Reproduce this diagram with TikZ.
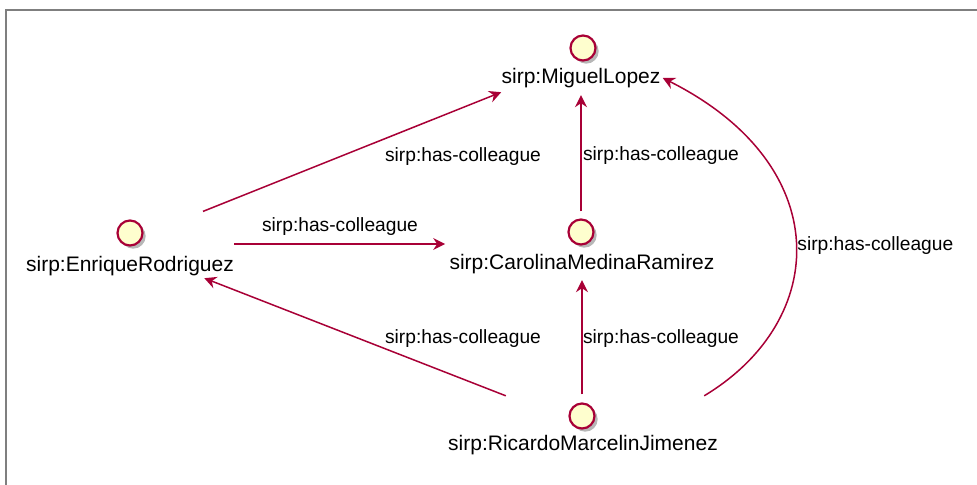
\documentclass[tikz,border=0pt]{standalone}
\usepackage{fontspec}
\setmainfont{Liberation Sans}
\usetikzlibrary{arrows.meta,shadows}
\definecolor{relred}{HTML}{A80036}
\definecolor{indfill}{HTML}{FEFECE}
\definecolor{framegray}{HTML}{7F7F7F}

\begin{document}
\begin{tikzpicture}[x=0.5pt,y=-0.5pt,
    ind/.style={circle,draw=relred,line width=1.1pt,fill=indfill,minimum size=12.5pt,inner sep=0pt,
      drop shadow={shadow xshift=1.6pt,shadow yshift=-1.6pt,opacity=0.4,fill=black!70}},
    indname/.style={inner sep=0pt,font=\fontsize{10.5pt}{12pt}\selectfont},
    rel/.style={draw=relred,line width=0.75pt,-{Stealth[length=6pt,width=6pt,inset=2pt]}},
    rellabel/.style={inner sep=0pt,font=\fontsize{9.6pt}{11pt}\selectfont}]
    \useasboundingbox (0,0) rectangle (977,485);

    % Frame
    \draw[framegray,line width=1pt] (6,485) -- (6,10) -- (977,10);

    % Individuals
    \node[ind] (miguelC) at (583,48) {};
    \node[indname] (miguel) at (581,78) {sirp:MiguelLopez};

    \node[ind] (enriqueC) at (130,233) {};
    \node[indname] (enrique) at (130,266) {sirp:EnriqueRodriguez};

    \node[ind] (carolinaC) at (581,232) {};
    \node[indname] (carolina) at (582,264) {sirp:CarolinaMedinaRamirez};

    \node[ind] (ricardoC) at (582,416) {};
    \node[indname] (ricardo) at (583,445) {sirp:RicardoMarcelinJimenez};

    % Enrique -> Miguel
    \draw[rel] ([shift={(73,-8)}]enriqueC.north) -- ([shift={(0,4)}]miguel.south west);
    \node[rellabel] (l1) at (463,157) {sirp:has-colleague};

    % Enrique -> Carolina
    \draw[rel] ([shift={(0,-22)}]enrique.east) -- ([shift={(-4,-20)}]carolina.west);
    \node[rellabel] (l2) at (340,227) {sirp:has-colleague};

    % Carolina -> Miguel
    \draw[rel] ([shift={(0,-7)}]carolinaC.north) -- ([shift={(0,7)}]carolinaC |- miguel.south);
    \node[rellabel] (l3) at (661,156) {sirp:has-colleague};

    % Ricardo -> Carolina
    \draw[rel] ([shift={(0,-8)}]ricardoC.north) -- ([shift={(0,6)}]ricardoC |- carolina.south);
    \node[rellabel] (l4) at (661,339) {sirp:has-colleague};

    % Ricardo -> Enrique
    \draw[rel] ([shift={(58,-39)}]ricardo.north west) -- ([shift={(-30,2)}]enrique.south east);
    \node[rellabel] (l5) at (463,339) {sirp:has-colleague};

    % Ricardo -> Miguel (curved)
    \draw[rel] ([shift={(-14,-39)}]ricardo.north east) .. controls (830,320) and (836,165) .. ([shift={(2,0)}]miguel.east);
    \node[rellabel,anchor=west] (l6) at (797,246) {sirp:has-colleague};
\end{tikzpicture}
\end{document}
